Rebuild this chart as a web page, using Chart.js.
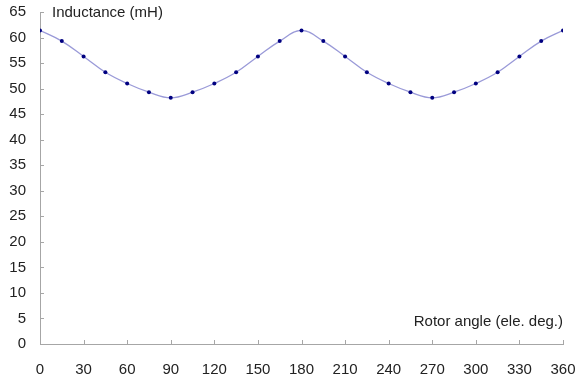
<!DOCTYPE html>
<html>
<head>
<meta charset="utf-8">
<script src="https://cdn.jsdelivr.net/npm/chart.js@4/dist/chart.umd.min.js"></script>
<style>
  html, body { margin: 0; padding: 0; background: #fff; }
  #wrap { width: 578px; height: 388px; }
</style>
</head>
<body>
<div id="wrap"><canvas id="chart" width="578" height="388"></canvas></div>
<script>
const angles = [0,15,30,45,60,75,90,105,120,135,150,165,180,195,210,225,240,255,270,285,300,315,330,345,360]
const inductance = [61.4,59.3,56.3,53.2,51.0,49.3,48.2,49.3,51.0,53.2,56.3,59.3,61.4,59.3,56.3,53.2,51.0,49.3,48.2,49.3,51.0,53.2,56.3,59.3,61.4]
const yLabel = 'Inductance (mH)'
const xLabel = 'Rotor angle (ele. deg.)'

const font = { family: 'Liberation Sans, Arial, sans-serif', size: 15 }
const axisGray = '#a6a6a6'

// small tick marks drawn inside the plot, plus the two axis captions
const extras = {
  id: 'extras',
  afterDraw(chart) {
    const ctx = chart.ctx
    const xs = chart.scales.x, ys = chart.scales.y
    ctx.save()
    ctx.strokeStyle = axisGray
    ctx.lineWidth = 1
    ctx.beginPath()
    ys.ticks.forEach(t => {
      const p = Math.round(ys.getPixelForValue(t.value)) + 0.5
      ctx.moveTo(xs.left, p); ctx.lineTo(xs.left + 4, p)
    })
    xs.ticks.forEach(t => {
      const p = Math.round(xs.getPixelForValue(t.value)) + 0.5
      ctx.moveTo(p, ys.bottom); ctx.lineTo(p, ys.bottom - 4)
    })
    ctx.stroke()
    ctx.fillStyle = '#222'
    ctx.font = '15px Liberation Sans, Arial, sans-serif'
    ctx.textBaseline = 'middle'
    ctx.textAlign = 'left'
    ctx.fillText(yLabel, xs.left + 12, ys.getPixelForValue(65) + 1)
    ctx.textAlign = 'right'
    ctx.fillText(xLabel, xs.right, ys.getPixelForValue(4.3))
    ctx.restore()
  }
}

const data = {
  datasets: [{
    data: angles.map((a, i) => ({ x: a, y: inductance[i] })),
    borderColor: '#9a9ad8',
    borderWidth: 1.3,
    backgroundColor: '#000080',
    pointBackgroundColor: '#000080',
    pointBorderColor: '#000080',
    pointRadius: 2,
    pointBorderWidth: 0,
    tension: 0.4,
    fill: false
  }]
}

const config = {
  type: 'line',
  data: data,
  options: {
    responsive: false,
    animation: false,
    layout: { padding: { top: 12, right: 15, left: 0, bottom: 0 } },
    plugins: { legend: { display: false }, tooltip: { enabled: false } },
    scales: {
      x: {
        type: 'linear', min: 0, max: 360,
        ticks: { stepSize: 30, color: '#222', font: font, padding: 17, maxRotation: 0 },
        grid: { display: true, drawOnChartArea: false, drawTicks: false },
        border: { color: axisGray, width: 1 },
        afterFit(s) { s.height = 44; s.paddingLeft = 0; s.paddingRight = 0 }
      },
      y: {
        min: 0, max: 65,
        ticks: { stepSize: 5, color: '#222', font: font, padding: 14 },
        grid: { display: true, drawOnChartArea: false, drawTicks: false },
        border: { color: axisGray, width: 1 },
        afterFit(s) { s.width = 40; s.paddingTop = 0; s.paddingBottom = 0 }
      }
    }
  },
  plugins: [extras]
}

const chart = new Chart(document.getElementById('chart'), config)
</script>
</body>
</html>
